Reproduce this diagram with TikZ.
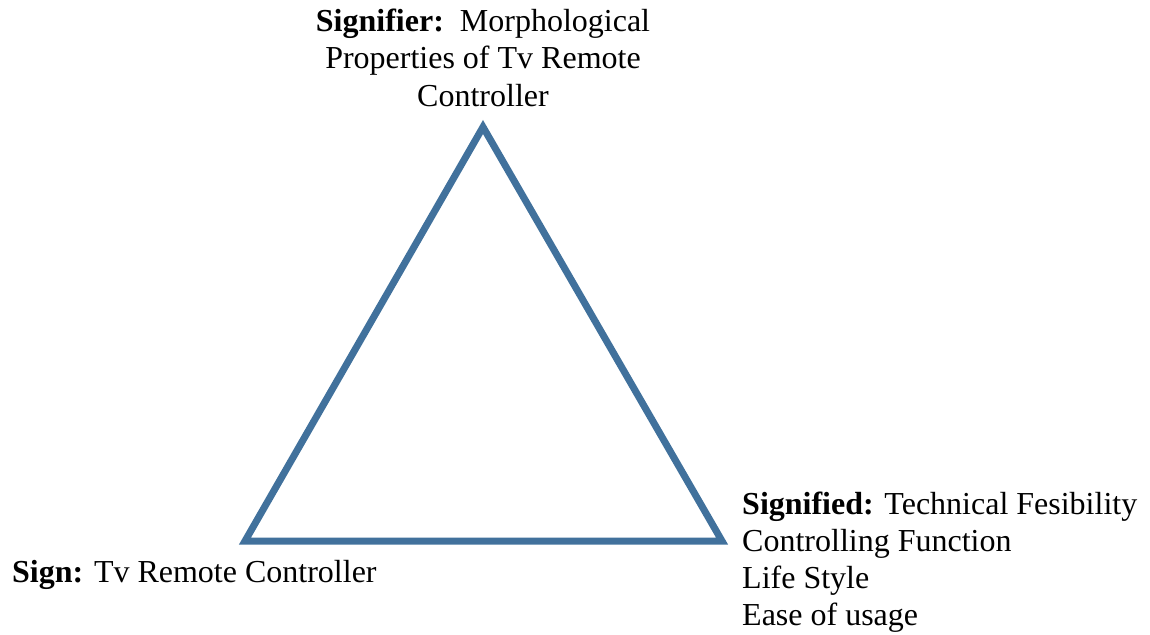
\documentclass[tikz,border=0pt]{standalone}
\usepackage{fontspec}
\setmainfont{Liberation Serif}
\definecolor{sideblue}{RGB}{65,113,156}

\begin{document}
\begin{tikzpicture}[x=1pt, y=-1pt,
side/.style={draw=sideblue, line width=7pt, line join=miter},
label/.style={inner sep=0, font=\fontsize{32}{37}\selectfont},
]
%%%%%%%%%%%%%%%%%%%%%%%% SIZE OF THE PICTURE %%%%%%%%%%%%%%%%%%%%%%%%
\useasboundingbox (0,0) rectangle (1150,634);

%%%%%%%%%% CORNERS %%%%%%%%%%
\coordinate (Signifier) at (483,127);
\coordinate (Sign) at (245,541);
\coordinate (Signified) at (722,541);

\draw[side] (Signifier) -- (Sign) -- (Signified) -- cycle;

%%%%%%%%%% TEXT %%%%%%%%%% (base = baseline of the last line)
\node[label, anchor=base, align=center] (SignifierText) at (483,106)
  {\textbf{Signifier:}\ \ Morphological\\Properties of Tv Remote\\Controller};
\node[label, anchor=base west] (SignText) at (12,582)
  {\textbf{Sign:} Tv Remote Controller};
\node[label, anchor=base west, align=left] (SignifiedText) at (742,625)
  {\textbf{Signified:} Technical Fesibility\\Controlling Function\\Life Style\\Ease of usage};
\end{tikzpicture}
\end{document}
